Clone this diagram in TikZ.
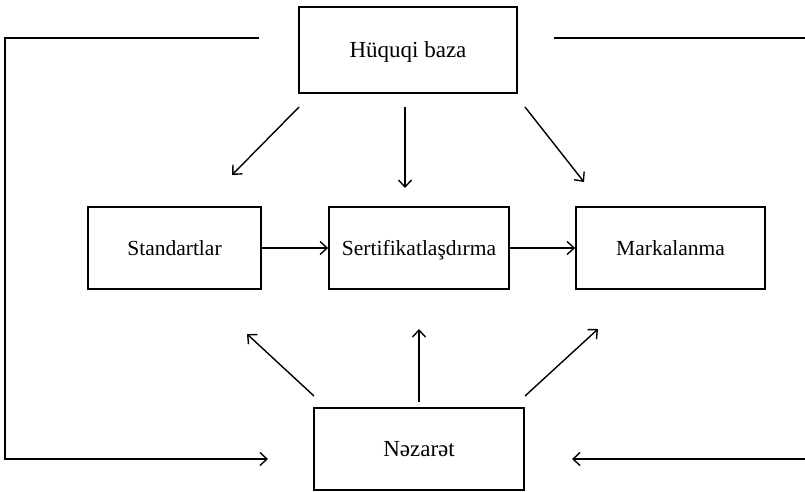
\documentclass[tikz,border=0pt]{standalone}
\usepackage{fontspec}
\setmainfont{Liberation Serif}
\usetikzlibrary{arrows.meta}
\newcommand{\lowtxt}[1]{\raisebox{-4pt}{#1}}
\begin{document}
\begin{tikzpicture}[x=1pt,y=-1pt,
  boxstyle/.style={draw,line width=1.8pt,inner sep=0pt,text height=0.64em,text depth=0pt},
  bigtext/.style={font=\fontsize{23}{26}\selectfont},
  midtext/.style={font=\fontsize{21.5}{24}\selectfont},
  conn/.style={line width=1.4pt,-{Straight Barb[length=7pt,width=13pt,line width=1.4pt]}},
  plain/.style={line width=1.4pt}]
\useasboundingbox (0,0) rectangle (805,491);
% boxes
\node[boxstyle,bigtext,minimum width=218pt,minimum height=86pt] (hb) at (408,50) {\lowtxt{Hüquqi baza}};
\node[boxstyle,midtext,minimum width=173pt,minimum height=82pt] (std) at (174.5,248) {\lowtxt{Standartlar}};
\node[boxstyle,midtext,minimum width=180pt,minimum height=82pt] (sert) at (419,248) {\lowtxt{Sertifikatlaşdırma}};
\node[boxstyle,midtext,minimum width=189pt,minimum height=82pt] (mark) at (670.5,248) {\lowtxt{Markalanma}};
\node[boxstyle,bigtext,minimum width=210pt,minimum height=82pt] (nez) at (419,449) {\lowtxt{Nəzarət}};
% coordinates
\coordinate (a1s) at (299,107); \coordinate (a1e) at (232,175);
\coordinate (a2s) at (405,107); \coordinate (a2e) at (405,188);
\coordinate (a3s) at (525,107); \coordinate (a3e) at (584,182);
\coordinate (b1s) at (314,396); \coordinate (b1e) at (247,334);
\coordinate (b2s) at (419,402); \coordinate (b2e) at (419,329);
\coordinate (b3s) at (525,396); \coordinate (b3e) at (598,329);
\coordinate (l1) at (259,38); \coordinate (l2) at (5,38);
\coordinate (l3) at (5,459); \coordinate (l4) at (268,459);
\coordinate (r1) at (554,38); \coordinate (r2) at (805,38);
\coordinate (r3) at (805,459); \coordinate (r4) at (572,459);
% arrows from top
\draw[conn] (a1s) -- (a1e);
\draw[conn] (a2s) -- (a2e);
\draw[conn] (a3s) -- (a3e);
% horizontal
\draw[conn] (std.east) -- (sert.west);
\draw[conn] (sert.east) -- (mark.west);
% arrows from bottom
\draw[conn] (b1s) -- (b1e);
\draw[conn] (b2s) -- (b2e);
\draw[conn] (b3s) -- (b3e);
% feedback lines
\draw[conn] (l1) -- (l2) -- (l3) -- (l4);
\draw[plain] (r1) -- (r2);
\draw[conn] (r3) -- (r4);
\end{tikzpicture}
\end{document}
